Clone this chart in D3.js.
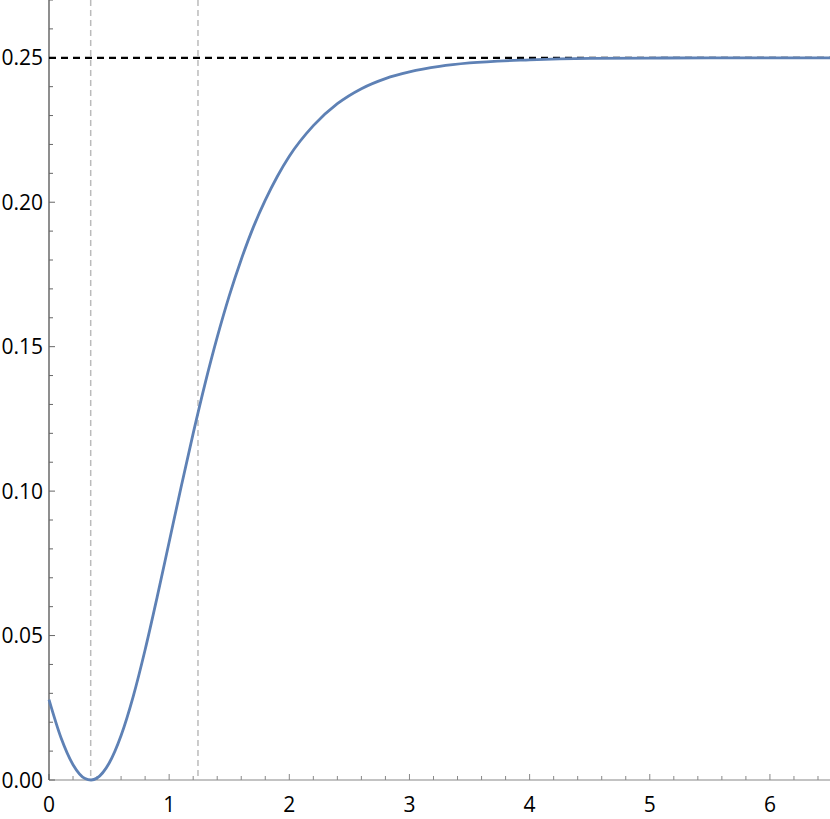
<!DOCTYPE html>
<html>
<head>
<meta charset="utf-8">
<script src="https://cdn.jsdelivr.net/npm/d3@7"></script>
<style>
  body { margin: 0; background: #fff; }
  text { font-family: "Open Sans", sans-serif; }
</style>
</head>
<body>
<div id="chart"></div>
<script>
// define svg area
var svgWidth = 830;
var svgHeight = 819;

// define margin for chart
var margin = { top: 0, right: 0, bottom: 39, left: 49 };

var width = svgWidth - margin.left - margin.right;
var height = svgHeight - margin.top - margin.bottom;

// curve values
var xValues = [0, 0.1, 0.2, 0.3, 0.35, 0.4, 0.5, 0.6, 0.7, 0.8, 0.9, 1.0, 1.1, 1.2, 1.3, 1.4,
  1.5, 1.6, 1.7, 1.8, 1.9, 2.0, 2.2, 2.4, 2.6, 2.8, 3.0, 3.25, 3.5, 4.0, 4.5, 5.0, 5.5, 6.0, 6.5];
var yValues = [0.0278, 0.0146, 0.0053, 0.0005, 0.0000, 0.0007, 0.0058, 0.0154, 0.0288, 0.0451,
  0.0633, 0.0824, 0.1015, 0.1200, 0.1374, 0.1533, 0.1676, 0.1802, 0.1913, 0.2007, 0.2089,
  0.2159, 0.2265, 0.2341, 0.2393, 0.2428, 0.2451, 0.2470, 0.2482, 0.2493, 0.2498, 0.2499,
  0.2500, 0.2500, 0.2500];

// reference lines
var asymptote = 0.25;
var markerX = [0.347, 1.24];

// tick labels
var xTicks = [0, 1, 2, 3, 4, 5, 6];
var yTicks = [0, 0.05, 0.10, 0.15, 0.20, 0.25];

var data = xValues.map((x, i) => ({ x: x, y: yValues[i] }));

var svg = d3.select("#chart")
  .append("svg")
  .attr("width", svgWidth)
  .attr("height", svgHeight);

var chartGroup = svg.append("g")
  .attr("transform", `translate(${margin.left}, ${margin.top})`);

// scales
var xScale = d3.scaleLinear().domain([0, 6.5]).range([0, width]);
var yScale = d3.scaleLinear().domain([0, 0.27]).range([height, 0]);

// vertical dashed markers
chartGroup.selectAll(".marker")
  .data(markerX)
  .enter()
  .append("line")
  .attr("x1", d => xScale(d))
  .attr("x2", d => xScale(d))
  .attr("y1", 0)
  .attr("y2", height)
  .attr("stroke", (d, i) => i === 0 ? "#bbb" : "#999")
  .attr("stroke-width", (d, i) => i === 0 ? 1.5 : 1)
  .attr("stroke-dasharray", "6,4");

// x axis (ticks point up)
var xMinor = d3.range(0, 6.51, 0.2).filter(v => Math.abs(v - Math.round(v)) > 1e-6);
var xAxis = chartGroup.append("g")
  .attr("transform", `translate(0, ${height})`);
xAxis.append("line")
  .attr("x1", 0).attr("x2", width)
  .attr("stroke", "#888").attr("stroke-width", 1.2);
xAxis.selectAll(".minor")
  .data(xMinor).enter().append("line")
  .attr("x1", d => xScale(d)).attr("x2", d => xScale(d))
  .attr("y1", 0).attr("y2", -4)
  .attr("stroke", "#888");
xAxis.selectAll(".major")
  .data(xTicks).enter().append("line")
  .attr("x1", d => xScale(d)).attr("x2", d => xScale(d))
  .attr("y1", 0).attr("y2", -6)
  .attr("stroke", "#888");
xAxis.selectAll("text")
  .data(xTicks).enter().append("text")
  .attr("x", d => xScale(d))
  .attr("y", 32)
  .attr("text-anchor", "middle")
  .attr("font-size", 21)
  .text(d => d);

// y axis (ticks point right)
var yMinor = d3.range(0, 0.2705, 0.01).filter(v => Math.abs(v * 20 - Math.round(v * 20)) > 1e-6);
var yAxis = chartGroup.append("g");
yAxis.append("line")
  .attr("y1", 0).attr("y2", height)
  .attr("stroke", "#444").attr("stroke-width", 1.2);
yAxis.selectAll(".minor")
  .data(yMinor).enter().append("line")
  .attr("y1", d => yScale(d)).attr("y2", d => yScale(d))
  .attr("x1", 0).attr("x2", 4)
  .attr("stroke", "#666");
yAxis.selectAll(".major")
  .data(yTicks).enter().append("line")
  .attr("y1", d => yScale(d)).attr("y2", d => yScale(d))
  .attr("x1", 0).attr("x2", 6)
  .attr("stroke", "#666");
yAxis.selectAll("text")
  .data(yTicks).enter().append("text")
  .attr("x", -6)
  .attr("y", d => yScale(d))
  .attr("dy", "0.36em")
  .attr("text-anchor", "end")
  .attr("font-size", 21)
  .text(d => d3.format(".2f")(d));

// horizontal asymptote
chartGroup.append("line")
  .attr("x1", 0).attr("x2", width)
  .attr("y1", yScale(asymptote)).attr("y2", yScale(asymptote))
  .attr("stroke", "#000")
  .attr("stroke-width", 2.2)
  .attr("stroke-dasharray", "7,5");

// curve
var line = d3.line()
  .x(d => xScale(d.x))
  .y(d => yScale(d.y))
  .curve(d3.curveMonotoneX);

chartGroup.append("path")
  .datum(data)
  .attr("d", line)
  .attr("fill", "none")
  .attr("stroke", "#5E81B5")
  .attr("stroke-width", 2.8);
</script>
</body>
</html>
